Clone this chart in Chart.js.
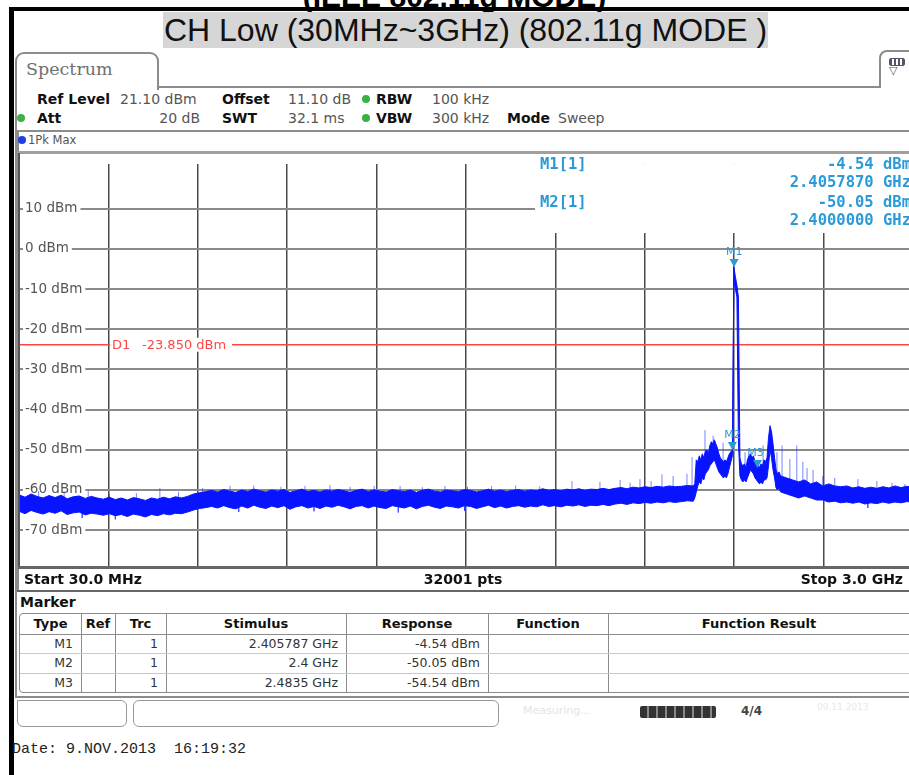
<!DOCTYPE html>
<html><head><meta charset="utf-8">
<script src="https://cdn.jsdelivr.net/npm/chart.js@4.4.1/dist/chart.umd.min.js"></script>
<style>
html,body{margin:0;padding:0}
body{width:909px;height:775px;overflow:hidden;background:#fff;position:relative;font-family:'DejaVu Sans',sans-serif;color:#222}
.a{position:absolute;white-space:pre}
.t{height:16px;line-height:16px;font-size:14px}
.b{font-weight:bold;color:#111}
.g{color:#555}
.dot{position:absolute;width:8px;height:8px;border-radius:50%;background:#3bb143}
.hl{position:absolute;background:#8c8c8c}
.cell{position:absolute;height:19px;line-height:19px;font-size:12.5px;color:#333;white-space:nowrap}
</style></head><body>
<div class="a" style="left:0;width:909px;top:-18px;text-align:center;font:bold 30px 'Liberation Sans',Arial,sans-serif;line-height:30px;color:#000">(IEEE 802.11g MODE)</div>
<div class="a" style="left:9px;top:7px;width:900px;height:4px;background:#000"></div>
<div class="a" style="left:9px;top:7px;width:5px;height:768px;background:#000"></div>
<div class="a" style="left:163px;top:12px;width:605px;height:36px;background:#d6d6d6;text-align:center;font:32px 'Liberation Sans',Arial,sans-serif;line-height:37px;color:#111">CH Low (30MHz~3GHz) (802.11g MODE )</div>

<!-- Spectrum tab -->
<div class="a" style="left:15px;top:52px;width:140px;height:36px;border:2px solid #8c8c8c;border-bottom:none;border-radius:9px 9px 0 0;background:#fff"></div>
<div class="a" style="left:26px;top:58px;font:17.5px 'DejaVu Serif',serif;color:#707070;line-height:22px">Spectrum</div>
<div class="hl" style="left:157px;top:86px;width:724px;height:2px"></div>
<div class="a" style="left:879px;top:50px;width:40px;height:36px;border:2px solid #8c8c8c;border-bottom:none;border-radius:8px 0 0 0;background:#fff"></div>
<div class="a" style="left:889px;top:58px;width:14px;height:6px;border:1.5px solid #556;border-radius:2px;background:repeating-linear-gradient(90deg,#556 0 2px,#fff 2px 4px)"></div>
<div class="a" style="left:889px;top:64px;font:11px 'DejaVu Sans';color:#556;line-height:14px">&#9661;</div>

<!-- window left edge -->
<div class="hl" style="left:15px;top:88px;width:2px;height:610px"></div>

<!-- parameter rows -->
<div class="a t b" style="left:37px;top:91px">Ref Level</div>
<div class="a t g" style="left:120px;top:91px">21.10 dBm</div>
<div class="a t b" style="left:222px;top:91px">Offset</div>
<div class="a t g" style="left:288px;top:91px">11.10 dB</div>
<div class="dot" style="left:362px;top:95px"></div>
<div class="a t b" style="left:376px;top:91px">RBW</div>
<div class="a t g" style="left:432px;top:91px">100 kHz</div>

<div class="dot" style="left:17px;top:114px"></div>
<div class="a t b" style="left:37px;top:110px">Att</div>
<div class="a t g" style="left:150px;top:110px;width:50px;text-align:right">20 dB</div>
<div class="a t b" style="left:222px;top:110px">SWT</div>
<div class="a t g" style="left:288px;top:110px">32.1 ms</div>
<div class="dot" style="left:362px;top:114px"></div>
<div class="a t b" style="left:376px;top:110px">VBW</div>
<div class="a t g" style="left:432px;top:110px">300 kHz</div>
<div class="a t b" style="left:507px;top:110px">Mode</div>
<div class="a t g" style="left:558px;top:110px">Sweep</div>

<!-- trace box -->
<div class="hl" style="left:17px;top:130px;width:892px;height:2px"></div>
<div class="hl" style="left:17px;top:130px;width:2px;height:462px"></div>
<div class="dot" style="left:18px;top:136px;background:#1f3fe8"></div>
<div class="a" style="left:28px;top:133px;font:11.5px 'DejaVu Sans';color:#555;line-height:14px">1Pk Max</div>

<canvas id="c" width="915" height="430" style="position:absolute;left:0;top:150px"></canvas>

<div class="a" style="left:18px;top:151px;width:891px;height:3px;background:#a0a0a0"></div>
<div class="a" style="left:18px;top:153px;width:2px;height:416px;background:#555"></div>
<div class="a" style="left:18px;top:566px;width:891px;height:3px;background:#666"></div>
<div class="a t b" style="left:24px;top:571px">Start 30.0 MHz</div>
<div class="a t b" style="left:363px;top:571px;width:200px;text-align:center">32001 pts</div>
<div class="a t b" style="left:703px;top:571px;width:200px;text-align:right">Stop 3.0 GHz</div>
<div class="hl" style="left:17px;top:590px;width:892px;height:2px;background:#666"></div>

<div class="a t b" style="left:20px;top:594px">Marker</div>
<div id="tbl" class="a" style="left:19px;top:613px;width:900px;height:78px;border:1px solid #8c8c8c;border-radius:4px"></div>
<div class="hl" style="left:15px;top:696px;width:894px;height:2px"></div>

<!-- status bar -->
<div class="a" style="left:17px;top:700px;width:108px;height:25px;border:1px solid #999;border-radius:0 6px 6px 6px;background:#fff"></div>
<div class="a" style="left:133px;top:700px;width:364px;height:25px;border:1px solid #999;border-radius:6px;background:#fff"></div>
<div class="a" style="left:523px;top:704px;font:11px 'DejaVu Sans';color:#e4e4e4;line-height:14px">Measuring...</div>
<div class="a" style="left:640px;top:706px;width:76px;height:12px;background:repeating-linear-gradient(90deg,#333 0 7px,#888 7px 9px);border-radius:2px"></div>
<div class="a" style="left:741px;top:704px;font:bold 12px 'DejaVu Sans';color:#444;line-height:14px">4/4</div>
<div class="a" style="left:817px;top:702px;font:9px 'DejaVu Sans';color:#e8e8e8;line-height:11px">09.11.2013</div>

<div class="a" style="left:12px;top:741px;font:15px 'Liberation Mono',monospace;color:#222;line-height:18px">Date: 9.NOV.2013  16:19:32</div>

<script>
// ---- instrument settings ----
const freqStart = 30;      // MHz
const freqStop = 3000;     // MHz
const refLevel = 21.1;     // dBm (top of grid)
const rangeDb = 100;       // dB
const yTickValues = [10, 0, -10, -20, -30, -40, -50, -60, -70];
const displayLine = -23.85; // D1, dBm

// ---- trace envelope (dBm) ----
// left floor: 30 MHz .. 2270 MHz, every 20 MHz
const floorLeftHi = [-61.2,-61.8,-61.0,-61.6,-62.0,-61.4,-61.9,-61.3,-62.2,-61.7,-61.5,-62.1,-61.6,-62.0,
 -62.3,-61.8,-62.4,-62.0,-62.5,-61.9,-62.2,-62.6,-62.0,-62.3,-61.8,-62.2,-61.7,-62.0,
 -61.6,-61.0,-60.7,-60.4,
 -60.1,-60.5,-59.9,-60.3,-60.6,-60.0,-60.4,-59.8,-60.2,-60.5,
 -60.0,-60.3,-59.9,-60.6,-60.2,-59.8,-60.4,-60.1,-60.5,-60.0,
 -60.3,-59.9,-60.2,-60.6,-60.1,-59.8,-60.4,-60.0,-60.3,-60.5,
 -59.9,-60.2,-60.4,-60.0,-60.6,-60.1,-59.8,-60.3,-60.5,-60.0,
 -60.2,-60.4,-59.9,-60.1,-60.5,-60.2,-59.8,-60.3,-60.0,-60.4,
 -60.1,-59.9,-60.3,-60.0,-60.2,-59.7,-60.1,-59.9,-60.2,-59.8,
 -60.0,-59.7,-60.1,-59.8,-59.9,-59.6,-59.9,
 -59.6,-59.4,-59.7,-59.3,-59.5,-59.2,-59.4,-59.1,-59.3,-59.0,-59.2,-59.1,-58.9,-59.0];
const floorLeftLo = [-65.3,-65.9,-65.1,-65.6,-66.0,-65.4,-65.8,-65.2,-66.1,-65.7,-65.5,-66.2,-65.8,-66.0,
 -66.3,-65.9,-66.4,-66.1,-66.6,-66.0,-66.3,-66.7,-66.1,-66.4,-65.9,-66.2,-65.8,-65.9,
 -65.5,-65.0,-64.6,-64.4,
 -64.1,-64.5,-63.9,-64.4,-64.7,-64.0,-64.5,-63.8,-64.3,-64.6,
 -64.0,-64.4,-63.9,-64.8,-64.2,-63.9,-64.5,-64.1,-64.6,-64.0,
 -64.3,-63.8,-64.2,-64.7,-64.1,-63.9,-64.5,-64.0,-64.4,-64.6,
 -63.9,-64.2,-64.5,-64.0,-64.7,-64.1,-63.8,-64.3,-64.6,-64.0,
 -64.2,-64.5,-63.9,-64.1,-64.6,-64.2,-63.8,-64.4,-64.0,-64.5,
 -64.1,-63.9,-64.3,-64.0,-64.2,-63.7,-64.1,-63.9,-64.2,-63.8,
 -64.0,-63.7,-64.1,-63.8,-63.9,-63.6,-63.9,
 -63.5,-63.3,-63.6,-63.2,-63.4,-63.1,-63.3,-63.0,-63.2,-62.9,-63.1,-62.9,-62.7,-62.8];
// signal region: 2275 MHz .. 2560 MHz, every 5 MHz
const peakHi = [-58.5,-52.5,-53.0,-51.5,-52.5,-51.0,-52.0,-50.5,-50.0,-51.0,
 -49.0,-48.0,-48.5,-47.5,-48.5,-49.5,-51.0,-52.0,-52.5,-53.0,
 -52.5,-53.0,-52.0,-51.0,-50.5,-50.0,-4.54,-7.0,-9.0,-12.0,
 -52.0,-53.5,-54.0,-53.5,-54.5,-52.5,-51.5,-51.0,-52.0,-51.5,
 -53.0,-54.0,-53.5,-54.5,-53.5,-54.0,-52.5,-53.0,-52.0,-47.0,
 -44.0,-45.5,-48.5,-52.0,-55.0,-56.0,-55.5,-56.5];
const peakLo = [-62.0,-60.5,-59.0,-58.0,-58.5,-57.0,-57.5,-56.0,-55.5,-55.0,
 -54.0,-53.5,-53.0,-52.5,-53.5,-54.5,-55.5,-56.0,-56.5,-57.0,
 -56.5,-57.0,-56.0,-54.5,-53.0,-51.5,-8.0,-10.0,-12.0,-48.0,
 -56.5,-57.5,-58.0,-57.5,-58.0,-57.0,-56.0,-55.0,-55.5,-56.0,
 -57.0,-57.5,-58.0,-58.5,-58.0,-58.5,-57.5,-57.5,-57.0,-54.0,
 -50.0,-52.0,-55.0,-57.0,-59.5,-60.0,-59.5,-60.5];
// right floor: 2580 MHz .. 3000 MHz, every 20 MHz
const floorRightHi = [-57.0,-57.5,-58.0,-57.5,-58.5,-58.0,-59.0,-58.5,-59.0,-59.2,-59.0,
 -59.5,-59.2,-59.6,-59.3,-59.6,-59.2,-59.5,-59.0,-59.4,-59.1,-59.3];
const floorRightLo = [-61.0,-61.5,-62.0,-61.5,-62.0,-62.5,-62.5,-63.0,-62.8,-63.2,-63.0,
 -63.3,-63.0,-63.5,-63.2,-63.4,-63.0,-63.3,-63.0,-63.2,-62.9,-63.1];
// isolated spikes (MHz, top dBm, base dBm)
const spikeFreqs = [95,180,240,260,330,350,420,498,560,640,731,760,810,900,980,1010,1063,1130,1210,1290,1296,1370,1445,1510,1520,1600,1680,1760,1867,1960,2027,2060,2093,2130,2166,2203,2249,2266,2309,2336,2369,2442,2502,2548,2565,2591,2614,2634,2648,2668,2700,2740,2817,2850,2880,2930,2973];
const spikeTops  = [-60.3,-60.6,-67.0,-60.2,-61.0,-67.3,-60.8,-59.5,-60.5,-59.5,-59.0,-65.5,-58.9,-59.2,-59.0,-65.3,-58.8,-59.2,-59.0,-65.6,-59.0,-59.3,-59.0,-65.2,-59.2,-59.0,-58.9,-59.1,-57.8,-58.0,-57.5,-58.2,-57.3,-57.8,-56.1,-56.5,-56.0,-51.8,-45.1,-46.5,-48.2,-50.6,-48.9,-50.6,-48.9,-52.3,-48.9,-53.0,-54.5,-55.0,-56.5,-57.0,-57.3,-64.5,-57.8,-58.2,-58.5];
const spikeBases = [-62,-62,-65,-62,-62.5,-66,-62.5,-62.5,-62.5,-61,-60.5,-64,-60.5,-60.5,-60.5,-64,-60.5,-60.5,-60.5,-64,-60.5,-60.5,-60.5,-64,-60.5,-60.5,-60.5,-60.5,-60.5,-60.3,-60,-60,-60,-59.5,-59.5,-59.5,-59.5,-59,-52,-50,-54,-55,-55,-57,-57.5,-58,-58,-58,-58.5,-58.5,-59.5,-59.5,-60,-63,-60,-60,-60];

// ---- markers ----
const markerNames = ['M1', 'M2', 'M3'];
const markerFreqGHz = [2.405787, 2.4, 2.4835];
const markerLevels = [-4.54, -50.05, -54.54];
const tableHeaders = ['Type', 'Ref', 'Trc', 'Stimulus', 'Response', 'Function', 'Function Result'];

// ---- build the marker table ----
const colEdges = [0, 61, 95, 146, 326, 468, 588, 890];
const tbl = document.getElementById('tbl');
function cell(txt, c, r, bold, align){
  const d = document.createElement('div');
  d.className = 'cell';
  d.textContent = txt;
  const l = colEdges[c], w = colEdges[c+1]-colEdges[c];
  d.style.left = l + 'px'; d.style.width = (w - 8) + 'px';
  d.style.top = (r*19.5) + 'px';
  d.style.textAlign = align; d.style.paddingRight = '8px';
  if (bold) { d.style.fontWeight = 'bold'; d.style.color = '#111'; d.style.fontSize = '13px'; d.style.paddingRight='0'; d.style.width = w+'px'; }
  tbl.appendChild(d);
}
tableHeaders.forEach((h,i)=>cell(h,i,0,true,'center'));
markerNames.forEach((m,i)=>{
  cell(m,0,i+1,false,'right');
  cell('1',2,i+1,false,'right');
  cell(String(markerFreqGHz[i])+' GHz',3,i+1,false,'right');
  cell(markerLevels[i].toFixed(2)+' dBm',4,i+1,false,'right');
});
for (let c=1;c<colEdges.length-1;c++){
  const v=document.createElement('div');
  v.style.cssText='position:absolute;top:0;height:78px;width:1px;background:#8c8c8c;left:'+colEdges[c]+'px';
  tbl.appendChild(v);
}
for (let r=1;r<4;r++){
  const h=document.createElement('div');
  h.style.cssText='position:absolute;left:0;width:900px;height:1px;background:'+(r===1?'#8c8c8c':'#c8c8c8')+';top:'+(r*19.5)+'px';
  tbl.appendChild(h);
}

// ---- chart ----
const BLUE = '#0814ff';
const MARK = '#2a9ad8';
const RED = '#ff4646';
function series(start, step, arr){ return arr.map((v,i)=>({x:start+step*i, y:v})); }
const loPts = [...series(30,20,floorLeftLo), ...series(2275,5,peakLo), ...series(2580,20,floorRightLo)];
const hiPts = [...series(30,20,floorLeftHi), ...series(2275,5,peakHi), ...series(2580,20,floorRightHi)];
const spikePts = [];
spikeFreqs.forEach((f,i)=>{ spikePts.push({x:f,y:spikeBases[i]},{x:f,y:spikeTops[i]},{x:f,y:null}); });
const xDiv = 10;
const xGrid = [];
for (let k=1;k<xDiv;k++) xGrid.push(freqStart + (freqStop-freqStart)*k/xDiv);

const overlay = {
  id:'overlay',
  beforeDatasetsDraw(chart){
    const {ctx, chartArea:a} = chart;
    ctx.save();
    ctx.fillStyle = '#fff';
    ctx.fillRect(535, a.top, a.right-535, 83 - a.top);
    ctx.restore();
  },
  afterDatasetsDraw(chart){
    const {ctx, chartArea:a, scales:{x,y}} = chart;
    ctx.save();
    // D1 label
    const yd = y.getPixelForValue(displayLine);
    ctx.font = '13px "DejaVu Sans"';
    ctx.fillStyle = '#fff';
    ctx.fillRect(110, yd-7, 122, 14);
    ctx.fillStyle = RED;
    ctx.textBaseline = 'middle';
    ctx.textAlign = 'left';
    ctx.fillText('D1', 112, yd+1);
    ctx.fillText('-23.850 dBm', 142, yd+1);
    // marker info box
    ctx.fillStyle = MARK;
    ctx.font = 'bold 15.5px "DejaVu Sans Mono"';
    markerNames.slice(0,2).forEach((m,i)=>{
      const yy = 15 + i*38;
      ctx.textAlign='left';
      ctx.fillText(m+'[1]', 540, yy);
      ctx.textAlign='right';
      ctx.fillText(markerLevels[i].toFixed(2)+' dBm', 911, yy);
      ctx.fillText(markerFreqGHz[i].toFixed(7)+' GHz', 911, yy+18);
    });
    // marker symbols
    ctx.font = '11px "DejaVu Sans"';
    markerNames.forEach((m,i)=>{
      const px = x.getPixelForValue(markerFreqGHz[i]*1000);
      const py = y.getPixelForValue(markerLevels[i]);
      ctx.fillStyle = MARK;
      ctx.beginPath();
      ctx.moveTo(px-4.5, py-8); ctx.lineTo(px+4.5, py-8); ctx.lineTo(px, py); ctx.closePath(); ctx.fill();
      ctx.textAlign='center'; ctx.textBaseline='middle';
      ctx.fillText(m, px + (i===2? -2:0), py-15);
    });
    ctx.restore();
  }
};

new Chart(document.getElementById('c'), {
  type:'line',
  data:{datasets:[
    {data:loPts, borderColor:BLUE, borderWidth:1, pointRadius:0, fill:false},
    {data:hiPts, borderColor:BLUE, borderWidth:1, pointRadius:0, fill:'-1', backgroundColor:BLUE},
    {data:spikePts, borderColor:'rgba(30,50,255,0.6)', borderWidth:1, pointRadius:0, spanGaps:false, fill:false},
    {data:[{x:freqStart,y:displayLine},{x:freqStop,y:displayLine}], borderColor:RED, borderWidth:1.5, pointRadius:0, fill:false}
  ]},
  options:{
    responsive:false, animation:false, events:[],
    layout:{padding:{left:19,right:2,top:3,bottom:12}},
    plugins:{legend:{display:false}, tooltip:{enabled:false}},
    elements:{line:{tension:0}},
    scales:{
      x:{type:'linear', min:freqStart, max:freqStop,
         afterBuildTicks:s=>{ s.ticks = xGrid.map(v=>({value:v})); },
         afterFit:s=>{ s.height = 0; },
         ticks:{display:false},
         grid:{color:'#4a4a4a', lineWidth:1.5, drawTicks:false},
         border:{display:false}},
      y:{type:'linear', min:refLevel-rangeDb, max:refLevel,
         afterBuildTicks:s=>{ s.ticks = yTickValues.map(v=>({value:v})); },
         afterFit:s=>{ s.width = 0; },
         ticks:{mirror:true, padding:6, color:'#555', font:{family:'DejaVu Sans', size:13.5},
                callback:v=>v+' dBm', showLabelBackdrop:true, backdropColor:'#fff',
                backdropPadding:{left:2,right:3,top:0,bottom:0}},
         grid:{color:'#8a8a8a', lineWidth:2, drawTicks:false},
         border:{display:false}}
    }
  },
  plugins:[overlay]
});
</script>
</body></html>
